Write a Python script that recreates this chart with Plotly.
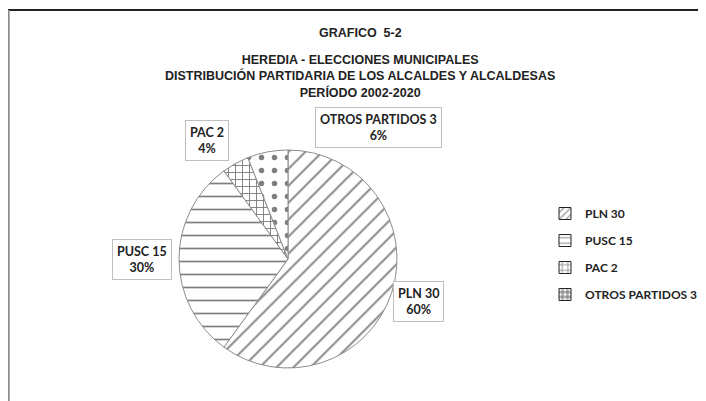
import plotly.graph_objects as go

# Heredia - alcaldes por partido, 2002-2020
partidos = ["PLN", "PUSC", "PAC", "OTROS PARTIDOS"]
alcaldes = [30, 15, 2, 3]
porcentajes = ["60%", "30%", "4%", "6%"]
patrones = ["/", "-", "+", "."]
tam_patron = [12, 13, 7, 13]
solidez = [0.16, 0.13, 0.25, 0.14]
tam_leyenda = [6, 7, 7, 6]
solidez_leyenda = [0.25, 0.2, 0.3, 0.7]

W, H = 698, 393  # page body adds 8px margin, so keep figure inside the window


def px(x):
    return (x - 8) / W


def py(y):
    return 1 - (y - 8) / H


# label box centres, measured in window pixels
label_xy = [(418, 301), (141.5, 259), (207, 140), (378, 127)]

etiquetas = [f"{p} {n}" for p, n in zip(partidos, alcaldes)]

fig = go.Figure()

cx, cy, r = 288, 259, 109
fig.add_trace(go.Pie(
    labels=etiquetas, values=alcaldes, sort=False, direction="clockwise",
    rotation=0, textinfo="none", showlegend=False, hoverinfo="label+percent",
    domain=dict(x=[px(cx - r), px(cx + r)], y=[py(cy + r), py(cy - r)]),
    marker=dict(colors=["white"] * 4,
                line=dict(color="#8c8c8c", width=1),
                pattern=dict(shape=patrones, fgcolor="#000000", bgcolor="white",
                             size=tam_patron, solidity=solidez, fillmode="overlay")),
))

# legend entries with room between them
for et, pat, sz, so in zip(etiquetas, patrones, tam_leyenda, solidez_leyenda):
    fig.add_trace(go.Bar(
        x=[None], y=[None], name=f"<b>{et}</b>", legendgroup=et, showlegend=True,
        marker=dict(color="white", line=dict(color="#222222", width=1),
                    pattern=dict(shape=pat, fgcolor="#222222", bgcolor="white",
                                 size=sz, solidity=so)),
    ))

for (x, y), et, pc in zip(label_xy, etiquetas, porcentajes):
    fig.add_annotation(x=px(x), y=py(y), xref="paper", yref="paper", showarrow=False,
                       xanchor="center", yanchor="middle",
                       text=f"<b>{et}<br>{pc}</b>", align="center",
                       font=dict(family="Lato", size=12.5, color="#222222"),
                       bgcolor="white", bordercolor="#bfbfbf", borderwidth=1, borderpad=4)

titulo = "GRAFICO  5-2"
subtitulo = ["HEREDIA - ELECCIONES MUNICIPALES",
             "DISTRIBUCIÓN PARTIDARIA DE LOS ALCALDES Y ALCALDESAS",
             "PERÍODO 2002-2020"]
fuente_titulo = dict(family="Liberation Sans, Arial", size=12.5, color="#222222")
fig.add_annotation(x=px(360), y=py(33), xref="paper", yref="paper", showarrow=False,
                   xanchor="center", yanchor="middle", text=f"<b>{titulo}</b>",
                   font=fuente_titulo)
fig.add_annotation(x=px(360), y=py(77), xref="paper", yref="paper", showarrow=False,
                   xanchor="center", yanchor="middle", align="center",
                   text="<b>" + "<br>".join(subtitulo) + "</b>",
                   font=fuente_titulo)

# frame lines
fig.add_shape(type="line", xref="paper", yref="paper", x0=0, x1=1, y0=py(10), y1=py(10),
              line=dict(color="#222222", width=2))
fig.add_shape(type="line", xref="paper", yref="paper", x0=0.001, x1=0.001, y0=0, y1=py(10),
              line=dict(color="#8c8c8c", width=2))

fig.update_layout(
    width=W, height=H,
    margin=dict(l=0, r=0, t=0, b=0),
    paper_bgcolor="white", plot_bgcolor="white",
    xaxis=dict(visible=False, domain=[0.99, 1]),
    yaxis=dict(visible=False),
    showlegend=True,
    legend=dict(x=px(545), y=py(199), xanchor="left", yanchor="top",
                tracegroupgap=8, itemclick=False, itemwidth=30,
                font=dict(family="Lato", size=12, color="#222222")),
)

fig.write_html("out.html")
print("saved out.html")
